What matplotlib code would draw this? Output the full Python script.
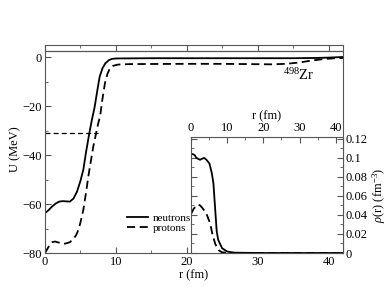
import matplotlib
matplotlib.use('Agg')
import matplotlib.pyplot as plt
from matplotlib.ticker import MultipleLocator

plt.rcParams.update({
    'font.family': ['Liberation Serif', 'DejaVu Serif'],
    'mathtext.fontset': 'custom',
    'mathtext.rm': 'Liberation Serif',
    'mathtext.it': 'Liberation Serif:italic',
    'axes.edgecolor': '#555555',
    'xtick.color': '#555555',
    'ytick.color': '#555555',
    'xtick.labelcolor': 'black',
    'ytick.labelcolor': 'black',
})

# potential U(r), MeV
r_n_pot = [0, 0.5, 1.0, 1.5, 2.0, 2.5, 3.0, 3.5, 4.0, 4.5, 5.0, 5.4, 5.8, 6.25,
           6.6, 7.0, 7.35, 7.7, 8.1, 8.5, 9.0, 9.4, 10, 15, 20, 30, 35, 38, 40, 42]
u_n = [-63.7, -62.5, -61.0, -59.8, -59.0, -58.8, -58.9, -59.0, -57.8, -55.0,
       -50.5, -46.0, -38.5, -31.0, -25.7, -20.3, -14.0, -8.0, -4.5, -2.5, -1.2,
       -0.7, -0.5, -0.4, -0.4, -0.4, -0.4, -0.3, -0.15, 0.1]

r_p_pot = [0, 0.3, 0.7, 1.0, 1.4, 2.0, 2.8, 3.5, 4.0, 4.4, 4.7, 5.0, 5.4, 5.8,
           6.1, 6.8, 7.5, 7.75, 8.1, 8.45, 8.8, 9.15, 9.6, 10.3, 12, 20, 25, 30,
           32, 34, 36, 37, 38, 39.4, 41, 42]
u_p = [-80.0, -78.5, -76.5, -75.6, -75.3, -75.8, -76.2, -75.6, -74.3, -72.6,
       -70.6, -67.5, -62.4, -55.0, -48.8, -36.6, -27.0, -24.4, -17.0, -10.6,
       -6.8, -4.5, -3.5, -3.0, -2.8, -2.7, -2.7, -2.85, -2.9, -2.7, -2.1, -1.6,
       -1.2, -0.7, -0.4, -0.3]

# dashed reference level
r_level = [0, 7.5]
u_level = [-31.0, -31.0]
u_top_line = 2.5

# densities rho(r), fm^-3
r_n_rho = [0, 0.5, 1.0, 1.5, 2.0, 2.5, 3.0, 3.6, 4.0, 4.5, 5.1, 5.5, 5.8, 6.2,
           6.7, 7.1, 7.5, 8.1, 8.6, 9.4, 10, 12, 20, 30, 42]
rho_n = [0.104, 0.104, 0.103, 0.100, 0.099, 0.098, 0.099, 0.100, 0.099, 0.097,
         0.094, 0.088, 0.083, 0.073, 0.045, 0.023, 0.014, 0.009, 0.005, 0.003,
         0.0015, 0.0003, 0, 0, 0]

r_p_rho = [0, 0.65, 1.3, 2.0, 2.5, 3.0, 3.6, 4.3, 5.3, 5.9, 6.7, 7.6, 8.5, 10,
           20, 30, 42]
rho_p = [0.041, 0.046, 0.049, 0.051, 0.050, 0.048, 0.045, 0.041, 0.031, 0.020,
         0.0095, 0.003, 0.0008, 0.0002, 0, 0, 0]

fig = plt.figure(figsize=(3.87, 2.99), dpi=100)
ax = fig.add_axes([45 / 387, 46 / 299, 298 / 387, 208 / 299])

ax.plot(r_n_pot, u_n, color='black', lw=1.3, label='neutrons')
ax.plot(r_p_pot, u_p, color='black', lw=1.3, ls=(0, (4.5, 2.5)), label='protons')
ax.plot(r_level, u_level, color='black', lw=0.9, ls=(0, (4, 2.5)))
ax.axhline(u_top_line, color='#555555', lw=0.9)

ax.set_xlim(0, 42)
ax.set_ylim(-80, 5)
ax.xaxis.set_major_locator(MultipleLocator(10))
ax.xaxis.set_minor_locator(MultipleLocator(5))
ax.yaxis.set_major_locator(MultipleLocator(20))
ax.yaxis.set_minor_locator(MultipleLocator(10))
ax.tick_params(which='both', direction='in', top=True, right=False, labelsize=9, pad=2)
ax.tick_params(which='major', length=4)
ax.tick_params(which='minor', length=2.5)
ax.set_xlabel('r (fm)', fontsize=9, labelpad=1)
ax.set_ylabel('U (MeV)', fontsize=9, labelpad=1)

ax.legend(loc='lower left', bbox_to_anchor=(0.255, 0.07), frameon=False, fontsize=8,
          handlelength=1.9, handletextpad=0.45, labelspacing=0.0, borderpad=0)

ax.text(0.80, 0.855, r'$^{498}$Zr', transform=ax.transAxes, fontsize=10.5,
        ha='left', va='center')

# inset with densities
ins = fig.add_axes([191 / 387, 46 / 299, 152 / 387, 116 / 299])
ins.plot(r_n_rho, rho_n, color='black', lw=1.3)
ins.plot(r_p_rho, rho_p, color='black', lw=1.3, ls=(0, (4.5, 2.5)))
ins.set_xlim(0, 42)
ins.set_ylim(0, 0.122)
ins.xaxis.set_major_locator(MultipleLocator(10))
ins.xaxis.set_minor_locator(MultipleLocator(5))
ins.yaxis.set_major_locator(MultipleLocator(0.02))
ins.yaxis.set_minor_locator(MultipleLocator(0.01))
ins.xaxis.tick_top()
ins.xaxis.set_label_position('top')
ins.yaxis.tick_right()
ins.yaxis.set_label_position('right')
ins.tick_params(which='both', direction='in', top=True, bottom=False,
                left=True, right=True, labelsize=9, pad=2)
ins.tick_params(which='major', length=4)
ins.tick_params(which='minor', length=2.5)
ins.set_yticks([0, 0.02, 0.04, 0.06, 0.08, 0.1, 0.12])
ins.set_yticklabels(['0', '0.02', '0.04', '0.06', '0.08', '0.1', '0.12'])
ins.set_xlabel('r (fm)', fontsize=9, labelpad=2)
ins.set_ylabel(r'$\rho$(r) (fm$^{-3}$)', fontsize=9, labelpad=2)

fig.savefig('out.png', dpi=100)
